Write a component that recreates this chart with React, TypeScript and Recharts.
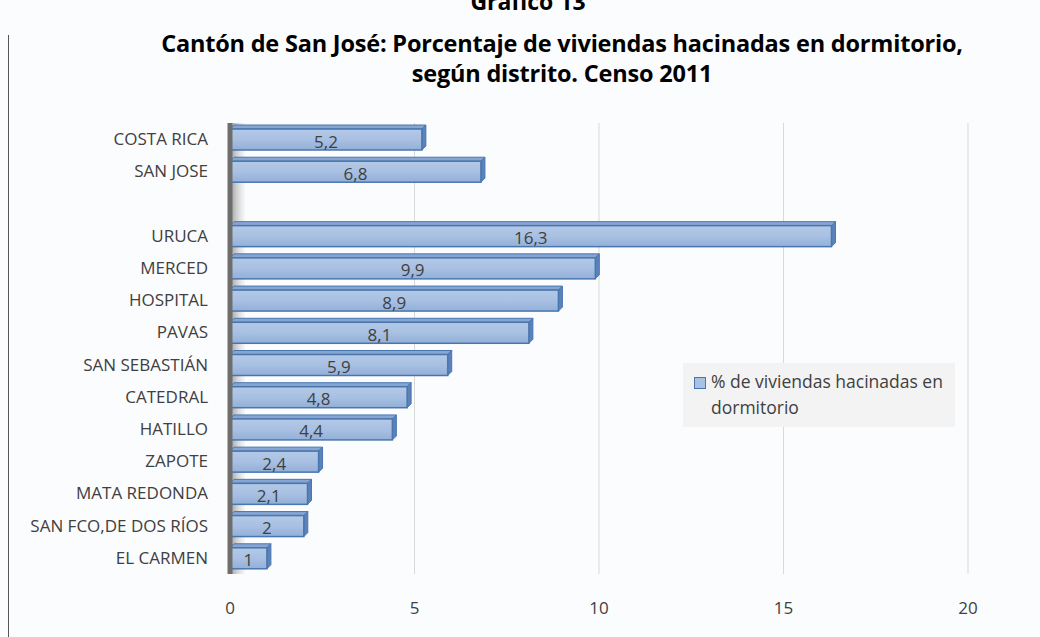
import React from "react";
import {
  BarChart,
  Bar,
  XAxis,
  YAxis,
  CartesianGrid,
  Legend,
  LabelList,
  ReferenceArea,
} from "recharts";

const districts = [
  "COSTA RICA",
  "SAN JOSE",
  "",
  "URUCA",
  "MERCED",
  "HOSPITAL",
  "PAVAS",
  "SAN SEBASTIÁN",
  "CATEDRAL",
  "HATILLO",
  "ZAPOTE",
  "MATA REDONDA",
  "SAN FCO,DE DOS RÍOS",
  "EL CARMEN",
];

const hacinadas: (number | null)[] = [
  5.2, 6.8, null, 16.3, 9.9, 8.9, 8.1, 5.9, 4.8, 4.4, 2.4, 2.1, 2, 1,
];

const xTicks = [0, 5, 10, 15, 20];

const seriesName = "% de viviendas hacinadas en dormitorio";

const data = districts.map((name, i) => ({ name, value: hacinadas[i] }));

const FONT = "'Open Sans', Lato, sans-serif";
const TXT = 17;

const Bar3D = (props: any) => {
  const { x, y, width, height } = props;
  if (!width || width <= 0) return null;
  const d = 4;
  return (
    <g>
      <polygon
        points={`${x},${y} ${x + d},${y - d} ${x + width + d},${y - d} ${x + width},${y}`}
        fill="#86a6d1"
        stroke="#4a76b0"
        strokeWidth={1}
      />
      <polygon
        points={`${x + width},${y} ${x + width + d},${y - d} ${x + width + d},${y + height - d} ${x + width},${y + height}`}
        fill="#5b82b9"
        stroke="#4a76b0"
        strokeWidth={1}
      />
      <rect
        x={x}
        y={y}
        width={width}
        height={height}
        fill="url(#barFill)"
        stroke="#4a76b0"
        strokeWidth={1.5}
      />
    </g>
  );
};

const LegendBox = () => (
  <div
    style={{
      position: "absolute",
      left: 683,
      top: 363,
      width: 272,
      height: 64,
      background: "#f3f3f3",
      fontFamily: FONT,
      fontSize: 17.5,
      color: "#404040",
      lineHeight: "26px",
      boxSizing: "border-box",
      padding: "5px 0 0 28px",
      whiteSpace: "nowrap",
    }}
  >
    <span
      style={{
        position: "absolute",
        left: 11,
        top: 14,
        width: 10,
        height: 10,
        background: "#a9c2e3",
        border: "1.5px solid #4a76b0",
      }}
    />
    {seriesName.replace(" dormitorio", "")}
    <br />
    dormitorio
  </div>
);

export default function App() {
  return (
    <div
      style={{
        position: "fixed",
        left: 0,
        top: 0,
        width: 1040,
        height: 637,
        background: "#fbfcfe",
        overflow: "hidden",
        fontFamily: FONT,
      }}
    >
      <div
        style={{
          position: "absolute",
          left: 8,
          top: 35,
          width: 1,
          height: 602,
          background: "#555",
        }}
      />
      <div
        style={{
          position: "absolute",
          left: 0,
          width: 1056,
          top: -15,
          textAlign: "center",
          fontWeight: "bold",
          fontSize: 23,
          color: "#000",
        }}
      >
        Gráfico 13
      </div>
      <div
        style={{
          position: "absolute",
          left: 0,
          width: 1124,
          top: 28,
          textAlign: "center",
          fontWeight: "bold",
          fontSize: 23.5,
          lineHeight: "30px",
          letterSpacing: -0.2,
          color: "#000",
        }}
      >
        Cantón de San José: Porcentaje de viviendas hacinadas en dormitorio,
        <br />
        según distrito. Censo 2011
      </div>
      <div style={{ position: "absolute", left: 0, top: 0 }}>
        <BarChart
          width={1040}
          height={637}
          data={data}
          layout="vertical"
          margin={{ top: 123, right: 72, bottom: 13, left: 10 }}
          barSize={21}
        >
          <defs>
            <linearGradient id="barFill" x1="0" y1="0" x2="0" y2="1">
              <stop offset="0%" stopColor="#b3c9e6" />
              <stop offset="50%" stopColor="#a8c0e2" />
              <stop offset="100%" stopColor="#93b0d8" />
            </linearGradient>
            <linearGradient id="wallShade" x1="0" y1="0" x2="1" y2="0">
              <stop offset="0%" stopColor="#9a9a9a" />
              <stop offset="100%" stopColor="#d8d8d8" stopOpacity={0.2} />
            </linearGradient>
          </defs>
          <CartesianGrid horizontal={false} stroke="#d9d9d9" />
          <ReferenceArea
            x1={0}
            x2={0.4}
            fill="url(#wallShade)"
            fillOpacity={1}
            stroke="none"
          />
          <XAxis
            type="number"
            domain={[0, 20]}
            ticks={xTicks}
            axisLine={false}
            tickLine={false}
            tickMargin={22}
            height={50}
            tick={{ fill: "#404040", fontSize: TXT, fontFamily: FONT }}
          />
          <YAxis
            type="category"
            dataKey="name"
            width={220}
            axisLine={{ stroke: "#6e6e6e", strokeWidth: 5 }}
            tickLine={false}
            tickMargin={16}
            interval={0}
            tick={{ fill: "#404040", fontSize: TXT, fontFamily: FONT }}
          />
          <Legend content={() => null} />
          <Bar
            dataKey="value"
            name={seriesName}
            shape={<Bar3D />}
            isAnimationActive={false}
          >
            <LabelList
              dataKey="value"
              position="center"
              fill="#404040"
              fontSize={TXT}
              fontFamily={FONT}
              dy={2}
              formatter={(v: any) =>
                v == null ? "" : String(v).replace(".", ",")
              }
            />
          </Bar>
        </BarChart>
      </div>
      <LegendBox />
    </div>
  );
}
